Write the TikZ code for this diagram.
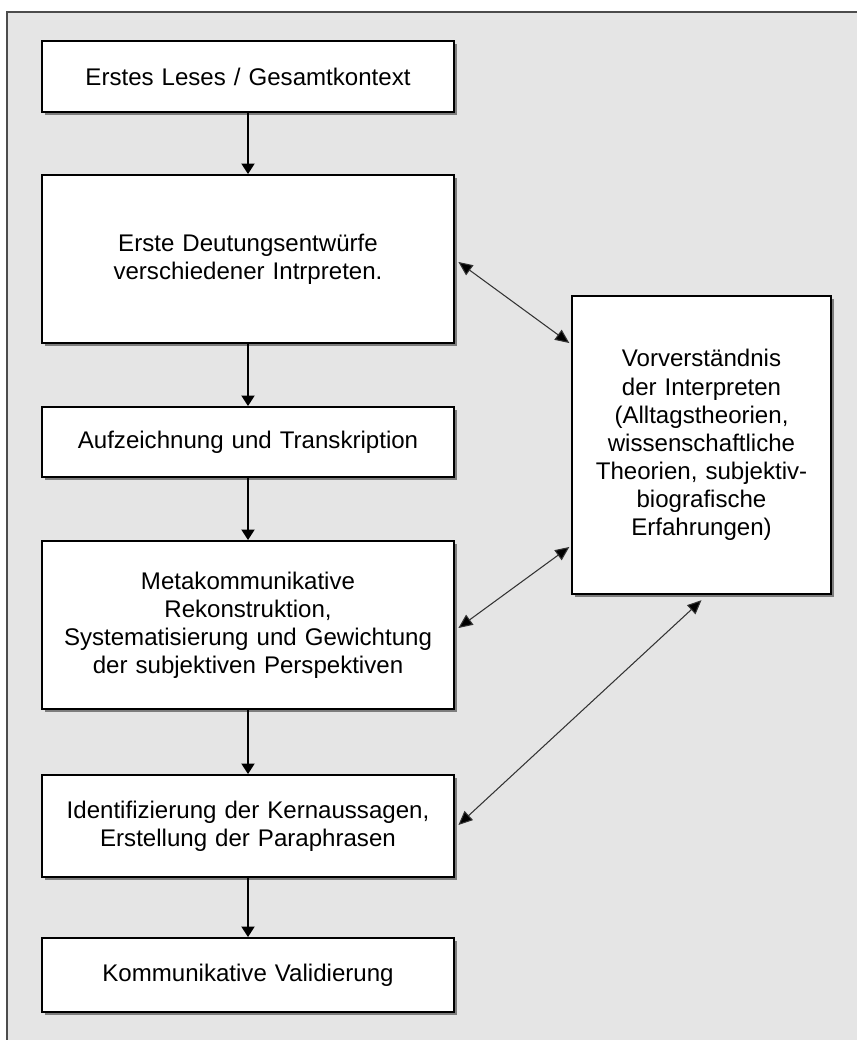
\documentclass[tikz,border=0pt]{standalone}
\usepackage{fontspec}
\setmainfont{Liberation Sans}
\usetikzlibrary{arrows.meta,shadows}
\definecolor{panelgray}{HTML}{E5E5E5}
\tikzset{
	stepbox/.style={draw=black, line width=1.1pt, fill=white, align=center,
		inner sep=0pt, minimum width=8.24cm, text width=8cm,
		font=\fontsize{13.7}{16}\selectfont,
		drop shadow={shadow xshift=1.5pt, shadow yshift=-1.5pt, fill=black, opacity=0.45}},
	flow/.style={line width=0.8pt, -{Triangle[width=7.5pt,length=6pt]}},
	link/.style={line width=0.6pt, draw=black!80, {Triangle[width=7pt,length=8pt,fill=black]}-{Triangle[width=7pt,length=8pt,fill=black]}}
}
\begin{document}
\begin{tikzpicture}[x=0.02cm, y=-0.02cm]
	\useasboundingbox (0,0) rectangle (856,1040);
	\draw[draw=black!70, line width=1pt, fill=panelgray] (7,12) rectangle (870,1060);
	
	\node[stepbox, minimum height=1.42cm] (lesen) at (248,76.5) {Erstes Leses / Gesamtkontext};
	\node[stepbox, minimum height=3.36cm] (deutung) at (248,259) {Erste Deutungsentw\"urfe\\verschiedener Intrpreten.};
	\node[stepbox, minimum height=1.40cm] (transkript) at (248,442) {Aufzeichnung und Transkription};
	\node[stepbox, minimum height=3.36cm] (rekon) at (248,625) {Metakommunikative\\Rekonstruktion,\\Systematisierung und Gewichtung\\der subjektiven Perspektiven};
	\node[stepbox, minimum height=2.04cm] (kern) at (248,826) {Identifizierung der Kernaussagen,\\Erstellung der Paraphrasen};
	\node[stepbox, minimum height=1.48cm] (valid) at (248,975) {Kommunikative Validierung};
	\node[stepbox, minimum width=5.18cm, text width=4.9cm, minimum height=5.96cm] (vorv) at (701.5,445)
		{Vorverst\"andnis\\der Interpreten\\(Alltagstheorien,\\wissenschaftliche\\Theorien, subjektiv-\\biografische\\Erfahrungen)};
	
	% Ablauf
	\draw[flow] (lesen) -- (deutung);
	\draw[flow] (deutung) -- (transkript);
	\draw[flow] (transkript) -- (rekon);
	\draw[flow] (rekon) -- (kern);
	\draw[flow] (kern) -- (valid);
	
	% Vorverstaendnis
	\draw[link] ([xshift=2pt,yshift=-0.06cm]deutung.east) -- ([xshift=-1pt,yshift=2.04cm]vorv.west);
	\draw[link] ([xshift=2pt,yshift=-0.06cm]rekon.east) -- ([xshift=-1pt,yshift=-2.04cm]vorv.west);
	\draw[link] ([xshift=2pt,yshift=0.02cm]kern.east) -- ([yshift=-3pt]vorv.south);
\end{tikzpicture}
\end{document}
